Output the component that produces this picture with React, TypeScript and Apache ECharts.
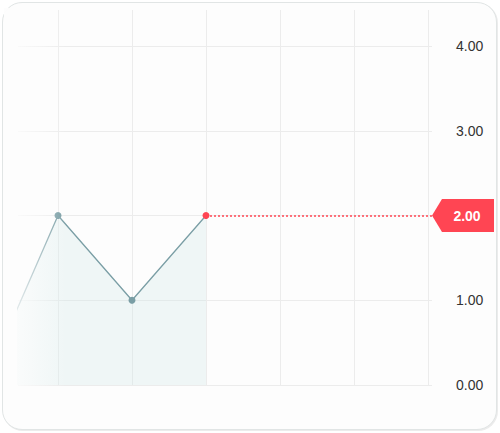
import React, { useEffect, useRef } from "react";
import * as echarts from "echarts";

const xPositions = [-1, 0, 1, 2];
const values = [0, 2, 1, 2];
const yTicks = [0, 1, 2, 3, 4];
const lastValue = 2;

export default function App() {
  const ref = useRef<HTMLDivElement>(null);
  useEffect(() => {
    if (!ref.current) return;
    const chart = echarts.init(ref.current, undefined, { renderer: "svg" });
    const lineColor = "#7a9ea5";
    const red = "#ff4553";
    const xMin = -40 / 74;
    const xMax = 5 + 4 / 74;
    const data = xPositions.map((x, i) => {
      const isLast = i === xPositions.length - 1;
      return isLast
        ? { value: [x, values[i]], itemStyle: { color: red } }
        : { value: [x, values[i]] };
    });
    chart.setOption({
      animation: false,
      backgroundColor: "transparent",
      textStyle: { fontFamily: "'Liberation Sans', Arial, sans-serif" },
      grid: [
        { left: 18, right: 68, top: 46, bottom: 48 },
        { left: 58, right: 72, top: 10, bottom: 48 },
      ],
      xAxis: [
        { type: "value", gridIndex: 0, min: xMin, max: xMax, show: false },
        {
          type: "value",
          gridIndex: 1,
          min: 0,
          max: 5,
          interval: 1,
          axisLine: { show: false },
          axisTick: { show: false },
          axisLabel: { show: false },
          splitLine: { show: true, lineStyle: { color: "#ececec", width: 1 } },
        },
      ],
      yAxis: [
        {
          type: "value",
          gridIndex: 0,
          position: "right",
          min: yTicks[0],
          max: yTicks[yTicks.length - 1],
          interval: 1,
          axisLine: { show: false },
          axisTick: { show: false },
          axisLabel: {
            margin: 24,
            color: "#333",
            fontSize: 14,
            formatter: (v: number) => (v === lastValue ? "" : v.toFixed(2)),
          },
          splitLine: { lineStyle: { color: "#ececec", width: 1 } },
        },
        {
          type: "value",
          gridIndex: 1,
          min: 0,
          max: 1,
          show: false,
        },
      ],
      series: [
        {
          type: "line",
          xAxisIndex: 0,
          yAxisIndex: 0,
          data,
          symbol: "circle",
          symbolSize: 7,
          showSymbol: true,
          lineStyle: { color: lineColor, width: 1.3 },
          itemStyle: { color: lineColor },
          areaStyle: { color: "rgba(208,232,230,0.42)" },
          z: 3,
          markLine: {
            silent: true,
            symbol: "none",
            label: { show: false },
            lineStyle: { color: red, type: [2, 2], width: 1.5 },
            data: [
              [
                { coord: [xPositions[xPositions.length - 1], lastValue] },
                { coord: [xMax, lastValue] },
              ],
            ],
          },
          markPoint: {
            silent: true,
            symbol: "path://M0,16.5 L10,0 L62,0 L62,33 L10,33 Z",
            symbolSize: [62, 33],
            symbolOffset: [31, 0],
            symbolKeepAspect: false,
            itemStyle: { color: red },
            label: {
              show: true,
              position: "inside",
              offset: [4, 0],
              color: "#fff",
              fontWeight: "bold",
              fontSize: 14,
              formatter: () => lastValue.toFixed(2),
            },
            data: [{ coord: [xMax, lastValue], value: lastValue }],
          },
        },
      ],
      graphic: [
        {
          type: "rect",
          z: 100,
          silent: true,
          shape: { x: 4, y: 8, width: 62, height: 382 },
          style: {
            fill: new echarts.graphic.LinearGradient(0, 0, 1, 0, [
              { offset: 0, color: "rgba(253,253,253,1)" },
              { offset: 0.2, color: "rgba(253,253,253,0.8)" },
              { offset: 1, color: "rgba(253,253,253,0)" },
            ]),
          },
        },
      ],
    });
    return () => chart.dispose();
  }, []);
  return (
    <div style={{ position: "fixed", left: 0, top: 0, width: 500, height: 433, background: "#fff" }}>
      <div
        style={{
          position: "absolute",
          left: 2,
          top: 2,
          width: 493,
          height: 426,
          border: "1.5px solid #e1e5e5",
          borderRadius: 20,
          background: "#fdfdfd",
          boxShadow: "1px 1px 0 #ececec",
        }}
      />
      <div ref={ref} style={{ position: "absolute", left: 0, top: 0, width: 500, height: 433 }} />
    </div>
  );
}
